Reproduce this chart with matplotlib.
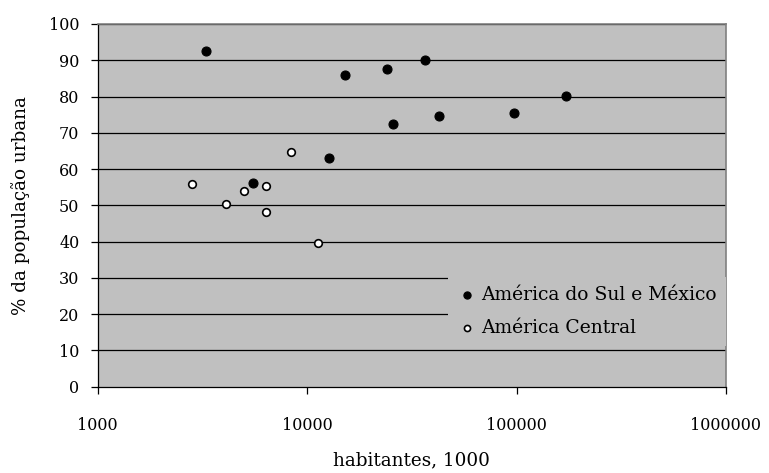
import matplotlib
matplotlib.use("Agg")
import matplotlib.pyplot as plt
from matplotlib.ticker import FixedLocator, NullLocator, FixedFormatter

# América do Sul e México (filled markers)
sul_hab = [3280, 15200, 24000, 25800, 36700, 42600, 97300, 172000, 12800, 5500]
sul_urb = [92.6, 85.9, 87.7, 72.4, 90.0, 74.6, 75.5, 80.1, 63.1, 56.2]

# América Central (open markers)
cen_hab = [2820, 4100, 5020, 6370, 6370, 8400, 11300]
cen_urb = [55.8, 50.4, 54.0, 55.4, 48.2, 64.8, 39.5]

x_ticks = [1000, 10000, 100000, 1000000]
x_labels = ["1000", "10000", "100000", "1000000"]
y_ticks = list(range(0, 101, 10))

plt.rcParams['font.family'] = ['DejaVu Serif']
plt.rcParams['font.size'] = 11.5

fig = plt.figure(figsize=(7.69, 4.73), dpi=100)
ax = fig.add_axes([97.5 / 769, 1 - 386.7 / 473, 628.5 / 769, 362.7 / 473])
ax.set_facecolor("#C0C0C0")

ax.set_xscale("log")
ax.set_xlim(1000, 1000000)
ax.set_ylim(0, 100)

for y in y_ticks[1:]:
    ax.axhline(y, color="black", lw=0.9, zorder=1)

ax.scatter(sul_hab, sul_urb, s=42, c="black", edgecolors="black",
           linewidths=0.8, zorder=3, label="América do Sul e México")
ax.scatter(cen_hab, cen_urb, s=30, c="white", edgecolors="black",
           linewidths=1.2, zorder=3, label="América Central")

ax.xaxis.set_major_locator(FixedLocator(x_ticks))
ax.xaxis.set_major_formatter(FixedFormatter(x_labels))
ax.xaxis.set_minor_locator(NullLocator())
ax.set_yticks(y_ticks)

ax.tick_params(axis="x", direction="out", length=5, width=0.9, pad=17)
ax.tick_params(axis="y", direction="out", length=5, width=0.9, pad=8)

for side in ["left", "bottom"]:
    ax.spines[side].set_color("black")
    ax.spines[side].set_linewidth(0.9)
for side in ["top", "right"]:
    ax.spines[side].set_color("#808080")
    ax.spines[side].set_linewidth(1.2)

ax.set_xlabel("habitantes, 1000", fontsize=13.2, labelpad=12)
ax.set_ylabel("% da população urbana", fontsize=13.2, labelpad=14)

leg = ax.legend(loc="upper right", bbox_to_anchor=(1.0, 0.303),
                borderaxespad=0, frameon=True, fancybox=False,
                facecolor="#C0C0C0", edgecolor="none", framealpha=1,
                fontsize=13.5, handlelength=1.0, handletextpad=0.25,
                labelspacing=0.78, borderpad=0.5, markerscale=0.8)
leg.get_frame().set_linewidth(0)
leg.set_zorder(4)

fig.savefig("out.png", dpi=100)
